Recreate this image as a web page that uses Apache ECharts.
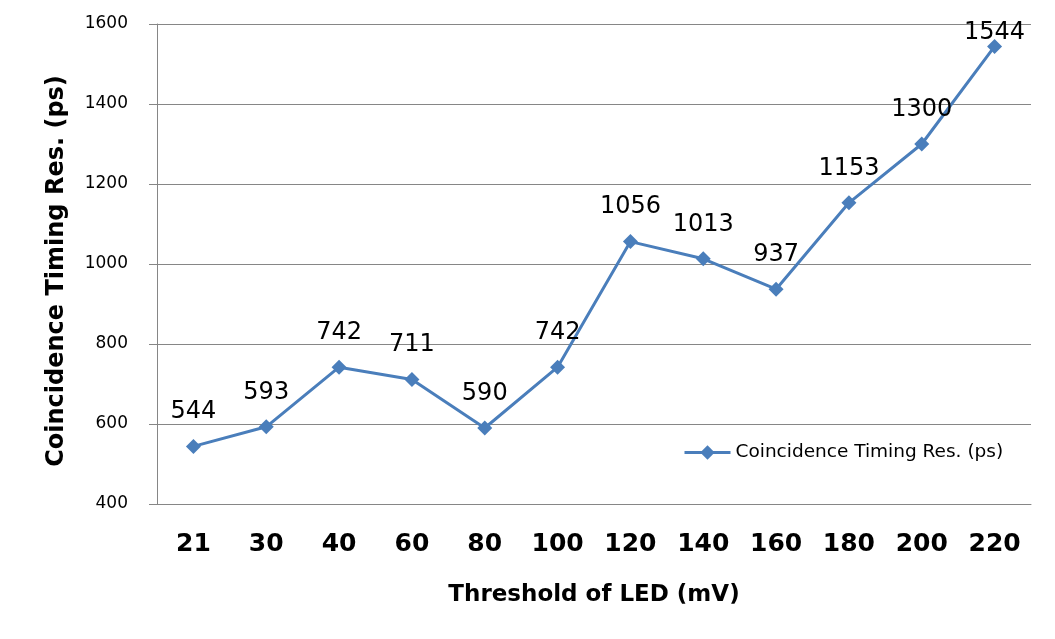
<!DOCTYPE html>
<html><head><meta charset="utf-8">
<script src="https://cdn.jsdelivr.net/npm/echarts@6/dist/echarts.min.js"></script>
<style>html,body{margin:0;padding:0;background:#fff}#c{width:1055px;height:639px}</style>
</head><body><div id="c"></div>
<script>
const categories = ['21','30','40','60','80','100','120','140','160','180','200','220'];
const values = [544, 593, 742, 711, 590, 742, 1056, 1013, 937, 1153, 1300, 1544];
const yTicks = [400, 600, 800, 1000, 1200, 1400, 1600];
const seriesName = 'Coincidence Timing Res. (ps)';
const FONT = '"DejaVu Sans", sans-serif';

const chart = echarts.init(document.getElementById('c'));
const data = values.map((v, i) => {
  const d = { value: v };
  if (i === values.length - 1) d.label = { distance: -6 };
  return d;
});
chart.setOption({
  animation: false,
  textStyle: { fontFamily: FONT },
  grid: { left: 157, right: 24, top: 24, bottom: 135 },
  legend: {
    data: [{ name: seriesName, lineStyle: { width: 3, color: '#4a7ebb' } }],
    left: 678, top: 438,
    itemWidth: 46, itemHeight: 18, itemGap: 4,
    textStyle: { fontSize: 18.5, color: '#000', fontFamily: FONT }
  },
  xAxis: {
    type: 'category', data: categories, boundaryGap: true,
    name: 'Threshold of LED (mV)', nameLocation: 'middle', nameGap: 80,
    nameTextStyle: { fontSize: 23, fontWeight: 'bold', color: '#000', fontFamily: FONT },
    axisLine: { lineStyle: { color: '#868686', width: 1 } },
    axisTick: { inside: true, length: 7, lineStyle: { color: '#868686' } },
    axisLabel: { fontSize: 25, fontWeight: 'bold', color: '#000', margin: 28, fontFamily: FONT }
  },
  yAxis: {
    type: 'value', min: yTicks[0], max: yTicks[yTicks.length - 1], interval: 200,
    name: 'Coincidence Timing Res. (ps)', nameLocation: 'middle', nameGap: 88,
    nameTextStyle: { fontSize: 24, fontWeight: 'bold', color: '#000', fontFamily: FONT, padding: [0, 14, 0, 0] },
    axisLine: { show: true, lineStyle: { color: '#868686', width: 1 } },
    axisTick: { show: true, length: 8, lineStyle: { color: '#868686' } },
    axisLabel: { fontSize: 17, color: '#000', margin: 29, fontFamily: FONT, padding: [4, 0, 0, 0], formatter: v => String(v) },
    splitLine: { lineStyle: { color: '#868686', width: 1 } }
  },
  series: [{
    name: seriesName, type: 'line', data: data,
    symbol: 'diamond', symbolSize: 15,
    lineStyle: { color: '#4a7ebb', width: 3 },
    itemStyle: { color: '#4a7ebb' },
    label: { show: true, position: 'top', distance: 15, fontSize: 24, color: '#000', fontFamily: FONT }
  }]
});
</script></body></html>
